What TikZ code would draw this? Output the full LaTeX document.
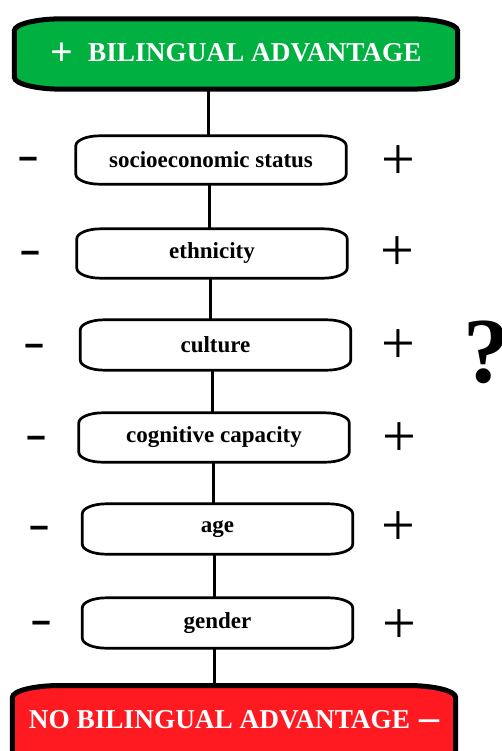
\documentclass[tikz,border=0pt]{standalone}
\usepackage{fontspec}
\setmainfont{Liberation Serif}
\usetikzlibrary{backgrounds}
\definecolor{topgreen}{RGB}{0,176,64}
\definecolor{botred}{RGB}{255,25,33}
\tikzset{
  holder/.style={inner sep=0pt, draw=none},
  midbox/.style={holder, minimum width=270pt, minimum height=49pt,
    font=\fontsize{23}{26}\selectfont\bfseries},
  endbox/.style={holder, minimum width=443pt,
    font=\fontsize{27.3}{30}\selectfont\bfseries, text=white},
  link/.style={line width=3pt},
  midline/.style={draw=black, fill=white, line width=2.7pt},
  minussign/.style={font=\fontsize{44}{44}\selectfont\bfseries, xscale=1.5, inner sep=0pt, anchor=base},
  plussign/.style={font=\fontsize{60}{60}\selectfont, inner sep=0pt},
}
\newcommand\ovoutline[4]{%
  \path[#4] ([xshift=#2]#1.north west) -- ([xshift=-#2]#1.north east)
    arc[start angle=90,end angle=0,x radius=#2,y radius=#3]
    -- ([yshift=#3]#1.south east)
    arc[start angle=0,end angle=-90,x radius=#2,y radius=#3]
    -- ([xshift=#2]#1.south west)
    arc[start angle=270,end angle=180,x radius=#2,y radius=#3]
    -- ([yshift=-#3]#1.north west)
    arc[start angle=180,end angle=90,x radius=#2,y radius=#3]
    -- cycle;}
\begin{document}
\begin{tikzpicture}[x=1pt,y=1pt]
\useasboundingbox (0,0) rectangle (502,-751);
% end boxes
\node[endbox, minimum height=70pt] (T) at (236,-54)
  {\raisebox{-4pt}{\fontsize{40}{40}\selectfont +}\hspace{15pt}BILINGUAL ADVANTAGE};
\node[endbox, anchor=north, text height=42.5pt, text depth=40pt] (B) at (234,-685.5)
  {NO BILINGUAL ADVANTAGE\hspace{9pt}\raisebox{-2pt}{\fontsize{40}{40}\selectfont –}};
% factor boxes
\node[midbox, minimum height=48pt] (b1) at (211,-160) {socioeconomic status};
\node[midbox] (b2) at (212,-253.5) {ethnicity};
\node[midbox, minimum height=50pt] (b3) at (215.5,-345) {culture};
\node[midbox] (b4) at (214,-437.5) {cognitive capacity};
\node[midbox, minimum height=50pt] (b5) at (217.5,-529) {age};
\node[midbox, minimum height=50pt] (b6) at (217.5,-623) {gender};
% outlines
\begin{scope}[on background layer]
  \ovoutline{T}{48pt}{12pt}{fill=topgreen, draw=black, line width=5pt}
  \ovoutline{B}{48pt}{12pt}{fill=botred, draw=black, line width=5pt}
  \ovoutline{b1}{24pt}{10pt}{midline}
  \ovoutline{b2}{24pt}{10pt}{midline}
  \ovoutline{b3}{24pt}{10pt}{midline}
  \ovoutline{b4}{24pt}{10pt}{midline}
  \ovoutline{b5}{24pt}{10pt}{midline}
  \ovoutline{b6}{24pt}{10pt}{midline}
\end{scope}
% connectors
\coordinate (x1) at (208,0);
\coordinate (x2) at (209,0);
\coordinate (x3) at (210,0);
\coordinate (x4) at (212,0);
\coordinate (x5) at (213,0);
\coordinate (x6) at (214,0);
\draw[link] (T.south -| x1) -- (b1.north -| x1);
\draw[link] (b1.south -| x2) -- (b2.north -| x2);
\draw[link] (b2.south -| x3) -- (b3.north -| x3);
\draw[link] (b3.south -| x4) -- (b4.north -| x4);
\draw[link] (b4.south -| x5) -- (b5.north -| x5);
\draw[link] (b5.south -| x6) -- (b6.north -| x6);
\draw[link] (b6.south -| x6) -- (B.north -| x6);
% minus signs
\node[minussign] (m1) at (28,-170) {-};
\node[minussign] (m2) at (30.5,-263.5) {-};
\node[minussign] (m3) at (34,-356) {-};
\node[minussign] (m4) at (36,-448) {-};
\node[minussign] (m5) at (39,-538) {-};
\node[minussign] (m6) at (41,-633) {-};
% plus signs
\node[plussign] (p1) at (398,-163) {+};
\node[plussign] (p2) at (397,-254) {+};
\node[plussign] (p3) at (398,-347) {+};
\node[plussign] (p4) at (399,-440) {+};
\node[plussign] (p5) at (398,-529) {+};
\node[plussign] (p6) at (399,-627) {+};
% question mark
\node[inner sep=0pt, anchor=base, font=\fontsize{93}{93}\selectfont\bfseries] (q) at (486.5,-382) {?};
\end{tikzpicture}
\end{document}
